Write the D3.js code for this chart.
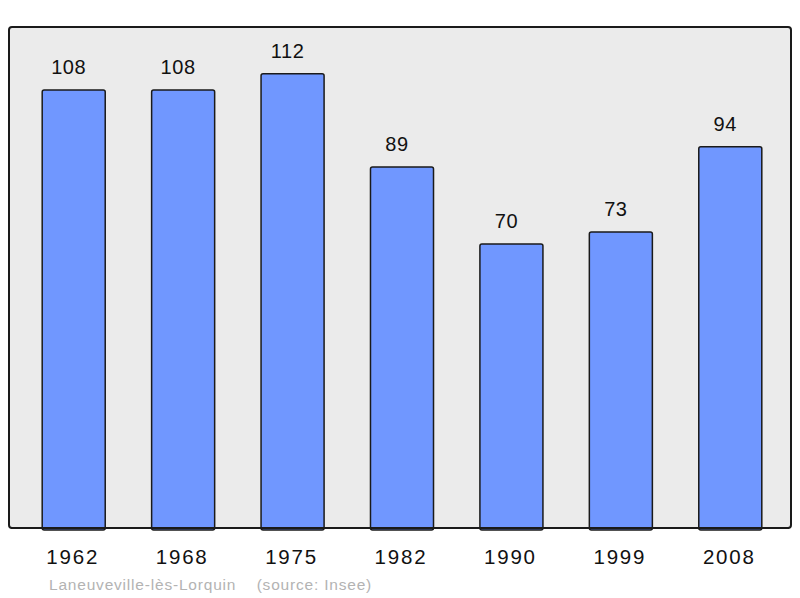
<!DOCTYPE html>
<html>
<head>
<meta charset="utf-8">
<script src="https://cdn.jsdelivr.net/npm/d3@7"></script>
<style>
  body { margin: 0; background: #fff; }
  text { font-family: "Liberation Sans", Arial, sans-serif; }
</style>
</head>
<body>
<div id="chart"></div>
<script>
// population data
var years = ["1962", "1968", "1975", "1982", "1990", "1999", "2008"];
var population = [108, 108, 112, 89, 70, 73, 94];
var sourceLabel = "Laneuveville-lès-Lorquin    (source: Insee)";

var width = 800, height = 598;

// panel box
var panelLeft = 9, panelTop = 27, panelRight = 791, panelBottom = 528;

var svg = d3.select("#chart")
  .append("svg")
  .attr("width", width)
  .attr("height", height);

svg.append("rect")
  .attr("x", panelLeft)
  .attr("y", panelTop)
  .attr("width", panelRight - panelLeft)
  .attr("height", panelBottom - panelTop)
  .attr("rx", 3)
  .attr("fill", "#ebebeb")
  .attr("stroke", "#1a1a1a")
  .attr("stroke-width", 2);

var x = d3.scaleBand()
  .domain(years)
  .range([19, 785])
  .paddingInner(0.424)
  .paddingOuter(0.212);

// 108 -> top at y=90
var y = d3.scaleLinear()
  .domain([0, 108])
  .range([panelBottom, 90]);

var data = years.map(function(yr, i) { return { year: yr, value: population[i] }; });

svg.selectAll(".bar")
  .data(data)
  .enter()
  .append("rect")
  .attr("class", "bar")
  .attr("x", function(d) { return x(d.year); })
  .attr("y", function(d) { return y(d.value); })
  .attr("width", x.bandwidth())
  .attr("height", function(d) { return panelBottom - y(d.value) + 2; })
  .attr("rx", 2)
  .attr("fill", "#7097ff")
  .attr("stroke", "#1a1a1a")
  .attr("stroke-width", 1.5);

// redraw bottom border over the bars
svg.append("line")
  .attr("x1", panelLeft + 2)
  .attr("x2", panelRight - 2)
  .attr("y1", panelBottom)
  .attr("y2", panelBottom)
  .attr("stroke", "#1a1a1a")
  .attr("stroke-width", 2);

// value labels (sit a little left of the bar centre in the original)
svg.selectAll(".val")
  .data(data)
  .enter()
  .append("text")
  .attr("class", "val")
  .attr("x", function(d) { return x(d.year) + x.bandwidth() / 2 - 5; })
  .attr("y", function(d) { return y(d.value) - 16; })
  .attr("text-anchor", "middle")
  .attr("font-size", 20)
  .attr("letter-spacing", 0.6)
  .attr("fill", "#111")
  .text(function(d) { return d.value; });

// year labels
svg.selectAll(".yr")
  .data(years)
  .enter()
  .append("text")
  .attr("class", "yr")
  .attr("x", function(d) { return x(d) + x.bandwidth() / 2 - 1; })
  .attr("y", 564)
  .attr("text-anchor", "middle")
  .attr("font-size", 20.5)
  .attr("letter-spacing", 1.8)
  .attr("fill", "#111")
  .text(function(d) { return d; });

svg.append("text")
  .attr("x", 49)
  .attr("y", 590)
  .attr("font-size", 15.5)
  .attr("letter-spacing", 0.8)
  .attr("fill", "#b3b3b3")
  .attr("xml:space", "preserve")
  .style("white-space", "pre")
  .text(sourceLabel);
</script>
</body>
</html>
